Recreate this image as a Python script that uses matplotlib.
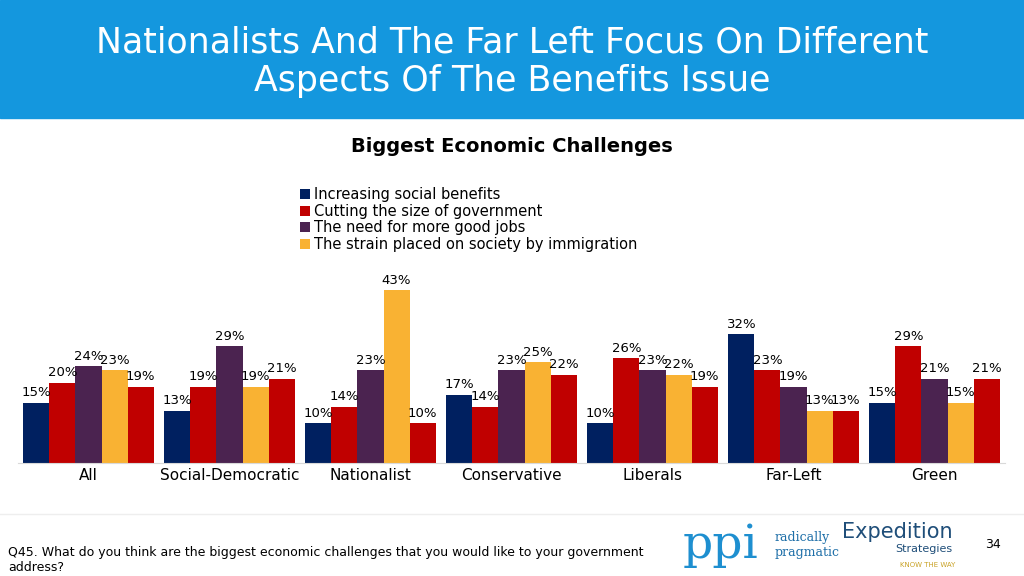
import matplotlib.pyplot as plt
import numpy as np

categories = ['All', 'Social-Democratic', 'Nationalist', 'Conservative', 'Liberals', 'Far-Left', 'Green']
series_names = ['Increasing social benefits', 'Cutting the size of government',
                'The need for more good jobs', 'The strain placed on society by immigration', None]
values = [
    [15, 13, 10, 17, 10, 32, 15],
    [20, 19, 14, 14, 26, 23, 29],
    [24, 29, 23, 23, 23, 19, 21],
    [23, 19, 43, 25, 22, 13, 15],
    [19, 21, 10, 22, 19, 13, 21],
]
colors = ['#002060', '#C00000', '#4B2350', '#F9B233', '#C00000']

fig = plt.figure(figsize=(10.24, 5.76), dpi=100)
fig.patches.append(plt.Rectangle((0, 1 - 118/576), 1, 118/576, transform=fig.transFigure,
                                 color='#1497DE', zorder=0))
fig.text(0.5, 1 - 62/576, 'Nationalists And The Far Left Focus On Different\nAspects Of The Benefits Issue',
         ha='center', va='center', color='white', fontsize=25, linespacing=1.15)
fig.text(0.5, 1 - 147/576, 'Biggest Economic Challenges', ha='center', va='center',
         fontsize=14, fontweight='bold')

ax = fig.add_axes([18/1024, 1 - 463/576, 987/1024, 181/576])
x = np.arange(len(categories))
w = 0.185
for i, (vals, c, name) in enumerate(zip(values, colors, series_names)):
    pos = x + (i - 2) * w
    ax.bar(pos, vals, w, color=c, label=name if name else '_nolegend_')
    for p, v in zip(pos, vals):
        ax.text(p, v + 0.8, f'{v}%', ha='center', va='bottom', fontsize=9.5)
ax.set_xlim(-0.5, len(categories) - 0.5)
ax.set_ylim(0, 45)
ax.set_yticks([])
ax.set_xticks(x)
ax.set_xticklabels(categories, fontsize=11)
ax.tick_params(axis='x', length=0)
for s in ['top', 'right', 'left']:
    ax.spines[s].set_visible(False)
ax.spines['bottom'].set_color('#d9d9d9')
ax.legend(loc='lower left', bbox_to_anchor=(276/987, 1.135), frameon=False, fontsize=10.5,
          handlelength=0.7, handletextpad=0.3, labelspacing=0.1, borderaxespad=0)

fig.add_artist(plt.Line2D([0, 1], [1 - 514/576] * 2, color='#eeeeee', lw=1))
fig.text(8/1024, 1 - 560/576, 'Q45. What do you think are the biggest economic challenges that you would like to your government\naddress?',
         fontsize=9, va='center', ha='left')
fig.text(683/1024, 1 - 545/576, 'ppi', fontsize=34, color='#1E8FD0', va='center', fontfamily='DejaVu Serif')
fig.text(775/1024, 1 - 545/576, 'radically\npragmatic', fontsize=9, color='#1E6FA8', va='center',
         fontfamily='DejaVu Serif')
fig.text(842/1024, 1 - 532/576, 'Expedition', fontsize=15, color='#1F4E79', va='center')
fig.text(895/1024, 1 - 549/576, 'Strategies', fontsize=8, color='#1F4E79', va='center')
fig.text(900/1024, 1 - 565/576, 'KNOW THE WAY', fontsize=5, color='#C9A227', va='center')
fig.text(985/1024, 1 - 544/576, '34', fontsize=9, va='center')
fig.savefig('out.png')
